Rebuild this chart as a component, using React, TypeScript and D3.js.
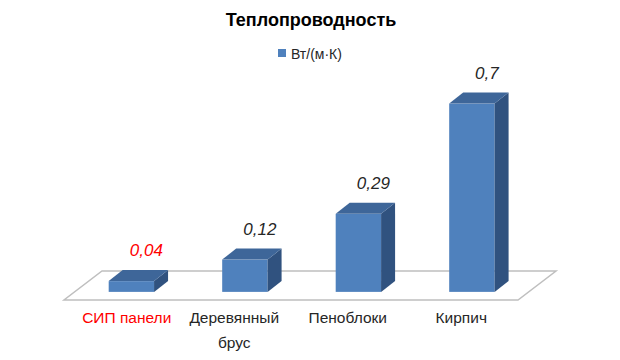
import React from "react";
import * as d3 from "d3";

const categories = ["СИП панели", "Деревянный брус", "Пеноблоки", "Кирпич"];
const values = [0.04, 0.12, 0.29, 0.7];
const valueLabels = ["0,04", "0,12", "0,29", "0,7"];
const labelColors = ["#FF0000", "#262626", "#262626", "#262626"];
const categoryLines = [["СИП панели"], ["Деревянный", "брус"], ["Пеноблоки"], ["Кирпич"]];
const seriesName = "Вт/(м·К)";
const title = "Теплопроводность";

const W = 620,
  H = 360;
const floorFront = 300;
const floorDX = 38,
  floorDY = -29;
const barOffsetT = 0.28; // how deep into the floor the bar front sits
const barDX = 14,
  barDY = -11;

const font = "'Liberation Sans', Arial, sans-serif";

export default function App() {
  const x = d3
    .scaleBand<string>()
    .domain(categories)
    .range([64, 518])
    .paddingInner(0.6)
    .paddingOuter(0.3);

  const baseY = floorFront + floorDY * barOffsetT;
  const shiftX = floorDX * barOffsetT;
  const y = d3.scaleLinear().domain([0, 1]).range([baseY, baseY - 269]);

  const floor = [
    [64, floorFront],
    [518, floorFront],
    [518 + floorDX, floorFront + floorDY],
    [64 + floorDX, floorFront + floorDY],
  ]
    .map((p) => p.join(","))
    .join(" ");

  // first label sits a little to the right in the original
  const labelX = (c: string, i: number) =>
    (x(c) as number) + x.bandwidth() / 2 + (i === 0 ? 6 : 0);

  return (
    <svg
      width={W}
      height={H}
      style={{ position: "absolute", left: 0, top: 0, background: "#fff" }}
    >
      <text
        x={311}
        y={26}
        textAnchor="middle"
        fontFamily={font}
        fontWeight="bold"
        fontSize={18}
        fill="#000"
      >
        {title}
      </text>
      <rect x={278} y={49} width={8} height={8} fill="#4F81BD" />
      <text x={291} y={59} fontFamily={font} fontSize={14} fill="#262626">
        {seriesName}
      </text>

      <polygon points={floor} fill="#fff" stroke="#BFBFBF" strokeWidth={1.5} />

      {categories.map((c, i) => {
        const x0 = (x(c) as number) + shiftX;
        const x1 = x0 + x.bandwidth();
        const yb = y(0);
        const yt = y(values[i]);
        const side = [
          [x1, yb],
          [x1 + barDX, yb + barDY],
          [x1 + barDX, yt + barDY],
          [x1, yt],
        ]
          .map((p) => p.join(","))
          .join(" ");
        const top = [
          [x0, yt],
          [x1, yt],
          [x1 + barDX, yt + barDY],
          [x0 + barDX, yt + barDY],
        ]
          .map((p) => p.join(","))
          .join(" ");
        return (
          <g key={c}>
            <rect x={x0} y={yt} width={x1 - x0} height={yb - yt} fill="#4F81BD" />
            <polygon points={side} fill="#30527F" />
            <polygon points={top} fill="#3E6699" />
            <text
              x={(x0 + x1) / 2 + 15}
              y={yt - 25}
              textAnchor="middle"
              fontFamily={font}
              fontStyle="italic"
              fontSize={17}
              fill={i === 0 ? "#FF0000" : "#262626"}
            >
              {valueLabels[i]}
            </text>
          </g>
        );
      })}

      {categories.map((c, i) => (
        <text
          key={c}
          x={labelX(c, i)}
          y={323}
          textAnchor="middle"
          fontFamily={font}
          fontSize={15.5}
          fill={labelColors[i]}
        >
          {categoryLines[i].map((line, j) => (
            <tspan key={j} x={labelX(c, i)} dy={j === 0 ? 0 : 25}>
              {line}
            </tspan>
          ))}
        </text>
      ))}
    </svg>
  );
}
